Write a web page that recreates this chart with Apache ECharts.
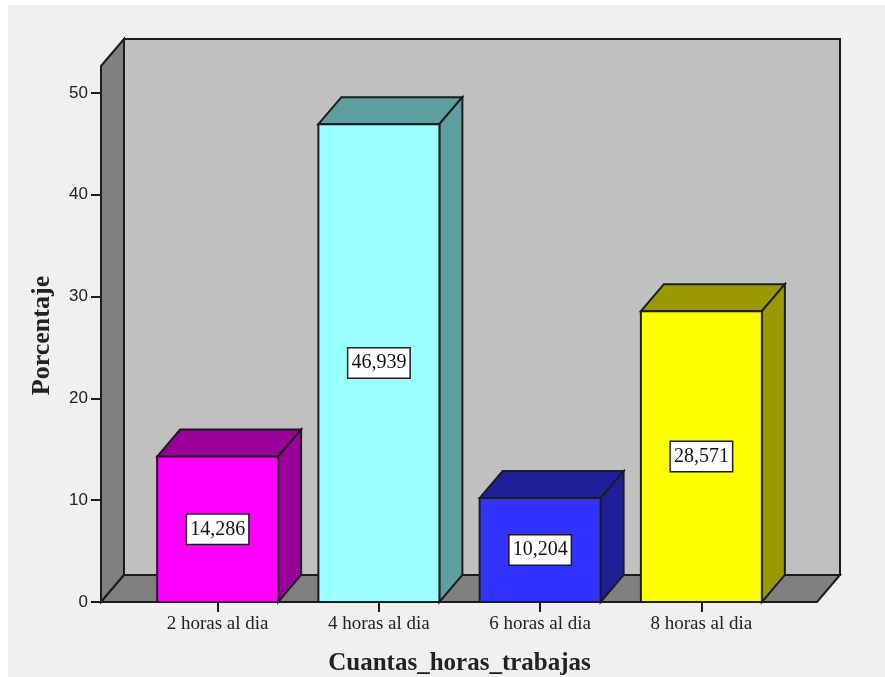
<!DOCTYPE html>
<html><head><meta charset="utf-8">
<style>
html,body{margin:0;padding:0;background:#fff;width:885px;height:677px;overflow:hidden}
#panel{position:absolute;left:8px;top:5px;width:877px;height:672px;background:#f0f0f0}
#main{position:absolute;left:0;top:0;width:885px;height:677px}
</style>
<script src="https://cdn.jsdelivr.net/npm/echarts@6/dist/echarts.min.js"></script>
</head><body><div id="panel"></div><div id="main"></div>
<script>
const categories = ['2 horas al dia','4 horas al dia','6 horas al dia','8 horas al dia'];
const percentages = [14.286, 46.939, 10.204, 28.571];
const valueLabels = ['14,286','46,939','10,204','28,571'];
const frontColors = ['#ff00ff','#99ffff','#3333ff','#ffff00'];
const shadeColors = ['#990099','#5f9e9e','#1f1f99','#999900'];
const wallTopValue = 52.65;
const depthX = 23, depthY = 27;
const barWidth = 121, outerPad = 36, rightPad = 35;
const line = '#1c1c1c';
const serif = '"Liberation Serif","Times New Roman",serif';
const sans = '"Liberation Sans",Arial,sans-serif';

function poly(points, fill, lw){
  return {type:'polygon', shape:{points}, style:{fill, stroke:line, lineWidth:lw||2, lineJoin:'miter'}};
}
function renderWalls(params, api){
  const cs = params.coordSys;
  const x0 = cs.x - outerPad, x1 = cs.x + cs.width + rightPad;
  const y0 = api.coord([0, 0])[1];
  const yT = api.coord([0, wallTopValue])[1];
  return {type:'group', children:[
    poly([[x0+depthX,yT-depthY],[x1+depthX,yT-depthY],[x1+depthX,y0-depthY],[x0+depthX,y0-depthY]],'#c0c0c0'),
    poly([[x0,yT],[x0+depthX,yT-depthY],[x0+depthX,y0-depthY],[x0,y0]],'#808080'),
    poly([[x0,y0],[x0+depthX,y0-depthY],[x1+depthX,y0-depthY],[x1,y0]],'#808080')
  ]};
}
function renderBar(params, api){
  const i = api.value(0), v = api.value(1);
  const c = api.coord([i, v]), b = api.coord([i, 0]);
  const l = c[0]-barWidth/2, r = c[0]+barWidth/2, t = c[1], y0 = b[1];
  const mid = api.coord([i, v/2])[1];
  return {type:'group', children:[
    poly([[l,t],[l+depthX,t-depthY],[r+depthX,t-depthY],[r,t]], shadeColors[i]),
    poly([[r,t],[r+depthX,t-depthY],[r+depthX,y0-depthY],[r,y0]], shadeColors[i]),
    poly([[l,t],[r,t],[r,y0],[l,y0]], frontColors[i]),
    {type:'text', style:{text:valueLabels[i], x:c[0], y:mid, align:'center', verticalAlign:'middle',
      font:'20px '+serif, fill:'#111', backgroundColor:'#fff', borderColor:line, borderWidth:1.5,
      padding:[5,3,4,3]}}
  ]};
}
const chart = echarts.init(document.getElementById('main'), null, {renderer:'canvas'});
chart.setOption({
  animation:false,
  backgroundColor:'transparent',
  grid:{left:137, right:103, top:93, bottom:75, containLabel:false, outerBoundsMode:'none'},
  xAxis:{type:'category', data:categories, boundaryGap:true,
    axisLine:{show:false},
    axisTick:{show:true, alignWithLabel:true, length:10, lineStyle:{color:line,width:2}},
    axisLabel:{fontFamily:serif, fontSize:19, color:'#222', margin:13},
    name:'Cuantas_horas_trabajas', nameLocation:'middle', nameGap:49, nameMoveOverlap:false,
    nameTextStyle:{fontFamily:serif, fontWeight:'bold', fontSize:25, color:'#222'}
  },
  yAxis:{type:'value', min:0, max:50, interval:10, offset:outerPad,
    splitLine:{show:false},
    axisLine:{show:false},
    axisTick:{show:true, length:10, lineStyle:{color:line,width:2}},
    axisLabel:{fontFamily:sans, fontSize:17, color:'#222', margin:13},
    name:'Porcentaje', nameLocation:'middle', nameGap:46, nameMoveOverlap:false,
    nameTextStyle:{fontFamily:serif, fontWeight:'bold', fontSize:26, color:'#222', padding:[0,0,0,24]}
  },
  series:[
    {type:'custom', z:1, clip:false, silent:true, renderItem:renderWalls, data:[[0,0]], encode:{x:0,y:1}},
    {type:'custom', z:2, clip:false, silent:true, renderItem:renderBar,
     data:percentages.map((p,i)=>[i,p]), encode:{x:0,y:1}}
  ]
});
</script></body></html>
